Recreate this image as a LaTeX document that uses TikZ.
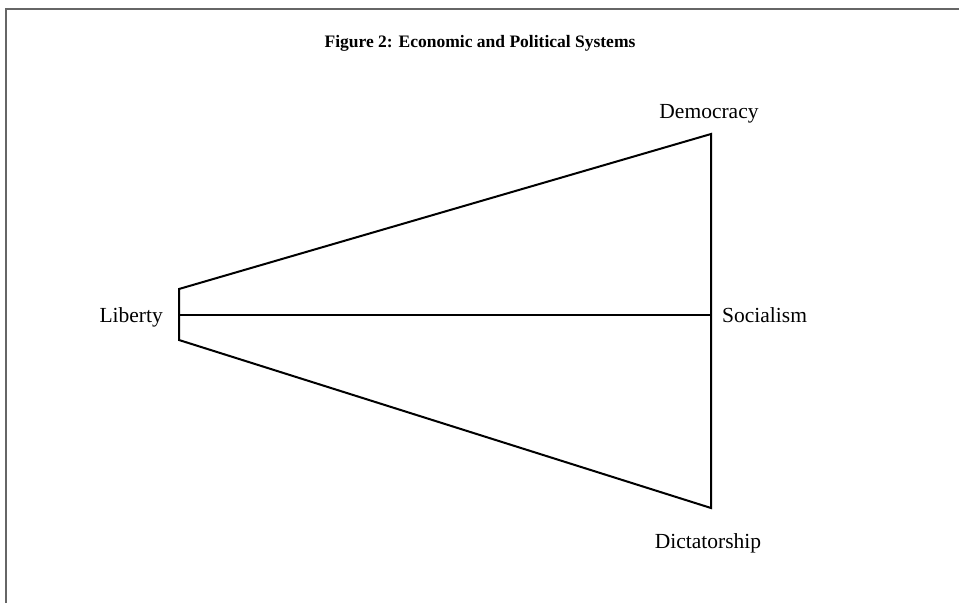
\documentclass[tikz,border=0pt]{standalone}
\usepackage{fontspec}
\setmainfont{Liberation Serif}
\usetikzlibrary{positioning}

\tikzset{
    frameline/.style={line width=2pt, black!60},
    wedge/.style={line width=2pt, black, line join=miter},
    tag/.style={font=\fontsize{21.5}{26}\selectfont, inner sep=0pt}
}

\begin{document}
\begin{tikzpicture}[x=1pt, y=-1pt]
        \useasboundingbox (0,0) rectangle (959,603);
        \draw[frameline] (6,603) -- (6,9) -- (959,9);

        \node[font=\fontsize{17.5}{21}\selectfont\bfseries] (title) at (480,43) {Figure 2: Economic and Political Systems};

        \coordinate (libtop) at (179,289);
        \coordinate (libmid) at (179,315);
        \coordinate (libbot) at (179,340);
        \coordinate (demo) at (711,134);
        \coordinate (soc) at (711,315);
        \coordinate (dict) at (711,508);

        \draw[wedge] (libtop) -- (demo) -- (dict) -- (libbot) -- cycle;
        \draw[wedge] (libmid) -- (soc);

        \node[tag, left=16pt of libmid, yshift=-2pt] (liberty) {Liberty};
        \node[tag, right=11pt of soc] (socialism) {Socialism};
        \node[tag, above=11pt of demo, xshift=-2pt] (democracy) {Democracy};
        \node[tag, below=25pt of dict, xshift=-3pt] (dictatorship) {Dictatorship};
    
    \end{tikzpicture}
\end{document}
